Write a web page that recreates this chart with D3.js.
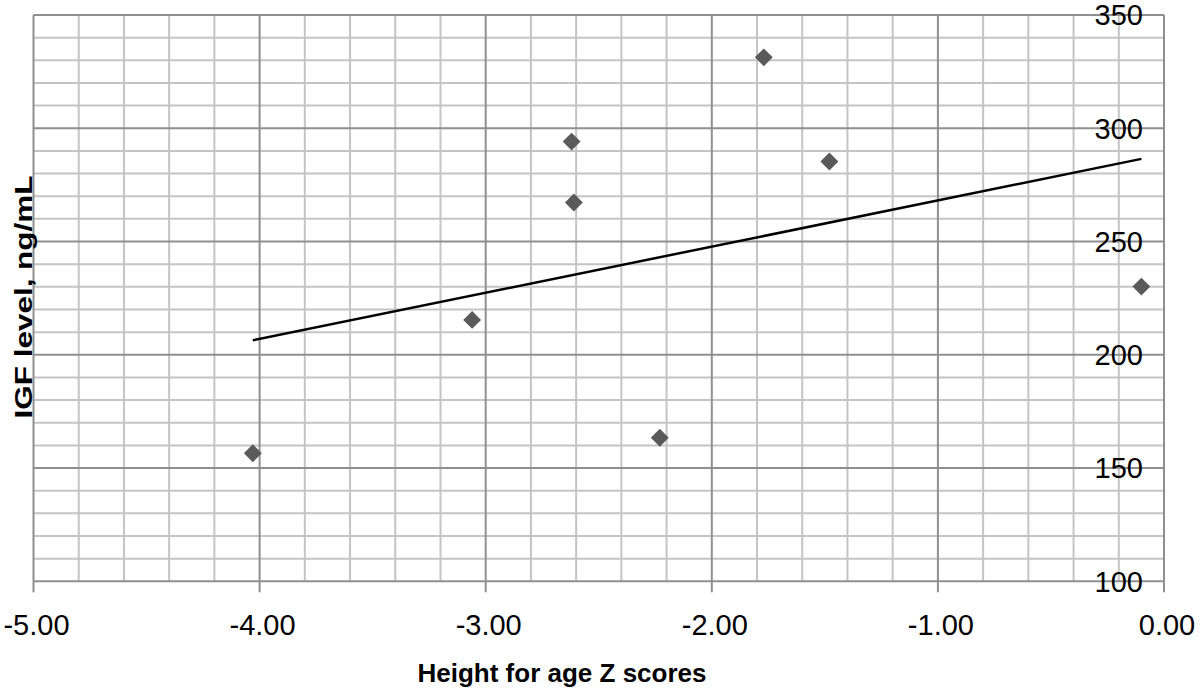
<!DOCTYPE html>
<html>
<head>
<meta charset="utf-8">
<script src="https://cdn.jsdelivr.net/npm/d3@7/dist/d3.min.js"></script>
<style>
  html, body { margin: 0; padding: 0; background: #fff; }
  svg { display: block; font-family: "Liberation Sans", Arial, sans-serif; }
</style>
</head>
<body>
<svg id="chart" width="1200" height="689"></svg>
<script>
// Data
const heightZ = [-4.03, -3.06, -2.62, -2.61, -2.23, -1.77, -1.48, -0.10];
const igfLevel = [156.5, 215.4, 294.1, 267.2, 163.4, 331.3, 285.3, 230.1];
const xTicks = [-5, -4, -3, -2, -1, 0];
const yTicks = [100, 150, 200, 250, 300, 350];
const xTickLabels = ["-5.00", "-4.00", "-3.00", "-2.00", "-1.00", "0.00"];
const xTitle = "Height for age Z scores";
const yTitle = "IGF level, ng/mL";

(function () {
const svg = d3.select("#chart");
const pLeft = 33.5, pRight = 1164, pTop = 15, pBottom = 581.3;

const x = d3.scaleLinear().domain([-5, 0]).range([pLeft, pRight]);
const y = d3.scaleLinear().domain([100, 350]).range([pBottom, pTop]);

// minor grid
const xMinor = d3.range(-5, 0.0001, 0.2).map(v => +v.toFixed(2));
const yMinor = d3.range(100, 350.001, 10);

const g = svg.append("g");
g.append("g").selectAll("line").data(yMinor.filter(v => v % 50 !== 0)).join("line")
  .attr("x1", pLeft).attr("x2", pRight)
  .attr("y1", d => y(d)).attr("y2", d => y(d))
  .attr("stroke", "#c4c4c4").attr("stroke-width", 2);
g.append("g").selectAll("line").data(xMinor.filter(v => Math.abs(v - Math.round(v)) > 1e-6)).join("line")
  .attr("y1", pTop).attr("y2", pBottom)
  .attr("x1", d => x(d)).attr("x2", d => x(d))
  .attr("stroke", "#c4c4c4").attr("stroke-width", 2);
// major grid
g.append("g").selectAll("line").data(yTicks).join("line")
  .attr("x1", pLeft).attr("x2", pRight)
  .attr("y1", d => y(d)).attr("y2", d => y(d))
  .attr("stroke", "#8f8f8f").attr("stroke-width", 2);
g.append("g").selectAll("line").data(xTicks).join("line")
  .attr("y1", pTop).attr("y2", pBottom)
  .attr("x1", d => x(d)).attr("x2", d => x(d))
  .attr("stroke", "#8f8f8f").attr("stroke-width", 2);

// x axis tick marks
g.append("g").selectAll("line").data(xTicks).join("line")
  .attr("y1", pBottom).attr("y2", pBottom + 11)
  .attr("x1", d => x(d)).attr("x2", d => x(d))
  .attr("stroke", "#8f8f8f").attr("stroke-width", 2);

// x tick labels
svg.append("g").selectAll("text").data(xTicks).join("text")
  .attr("x", d => x(d) + 3).attr("y", 635)
  .attr("text-anchor", "middle")
  .attr("font-size", 29).attr("fill", "#000")
  .text((d, i) => xTickLabels[i]);

// y tick labels (inside, next to right axis)
svg.append("g").selectAll("text").data(yTicks).join("text")
  .attr("x", 1143).attr("y", d => y(d))
  .attr("dy", "0.36em")
  .attr("text-anchor", "end")
  .attr("font-size", 29).attr("fill", "#000")
  .text(d => d);

// trend line (least squares fit of the data)
const n = heightZ.length;
const mx = d3.mean(heightZ), my = d3.mean(igfLevel);
let sxy = 0, sxx = 0;
for (let i = 0; i < n; i++) { sxy += (heightZ[i] - mx) * (igfLevel[i] - my); sxx += (heightZ[i] - mx) ** 2; }
const slope = sxy / sxx, icpt = my - slope * mx;
const xr = d3.extent(heightZ);
svg.append("line")
  .attr("x1", x(xr[0])).attr("y1", y(icpt + slope * xr[0]))
  .attr("x2", x(xr[1])).attr("y2", y(icpt + slope * xr[1]))
  .attr("stroke", "#000").attr("stroke-width", 2.5);

// points
const pts = heightZ.map((v, i) => ({ x: v, y: igfLevel[i] }));
svg.append("g").selectAll("path").data(pts).join("path")
  .attr("d", d3.symbol(d3.symbolSquare, 160))
  .attr("transform", d => `translate(${x(d.x)},${y(d.y)}) rotate(45)`)
  .attr("fill", "#5a5a5a");

// axis titles
svg.append("text")
  .attr("x", 562).attr("y", 682)
  .attr("text-anchor", "middle")
  .attr("font-size", 26).attr("font-weight", "bold")
  .text(xTitle);

svg.append("text")
  .attr("transform", "translate(32,297) rotate(-90)")
  .attr("text-anchor", "middle")
  .attr("font-size", 24).attr("font-weight", "bold")
  .attr("textLength", 243).attr("lengthAdjust", "spacingAndGlyphs")
  .text(yTitle);
})();
</script>
</body>
</html>
